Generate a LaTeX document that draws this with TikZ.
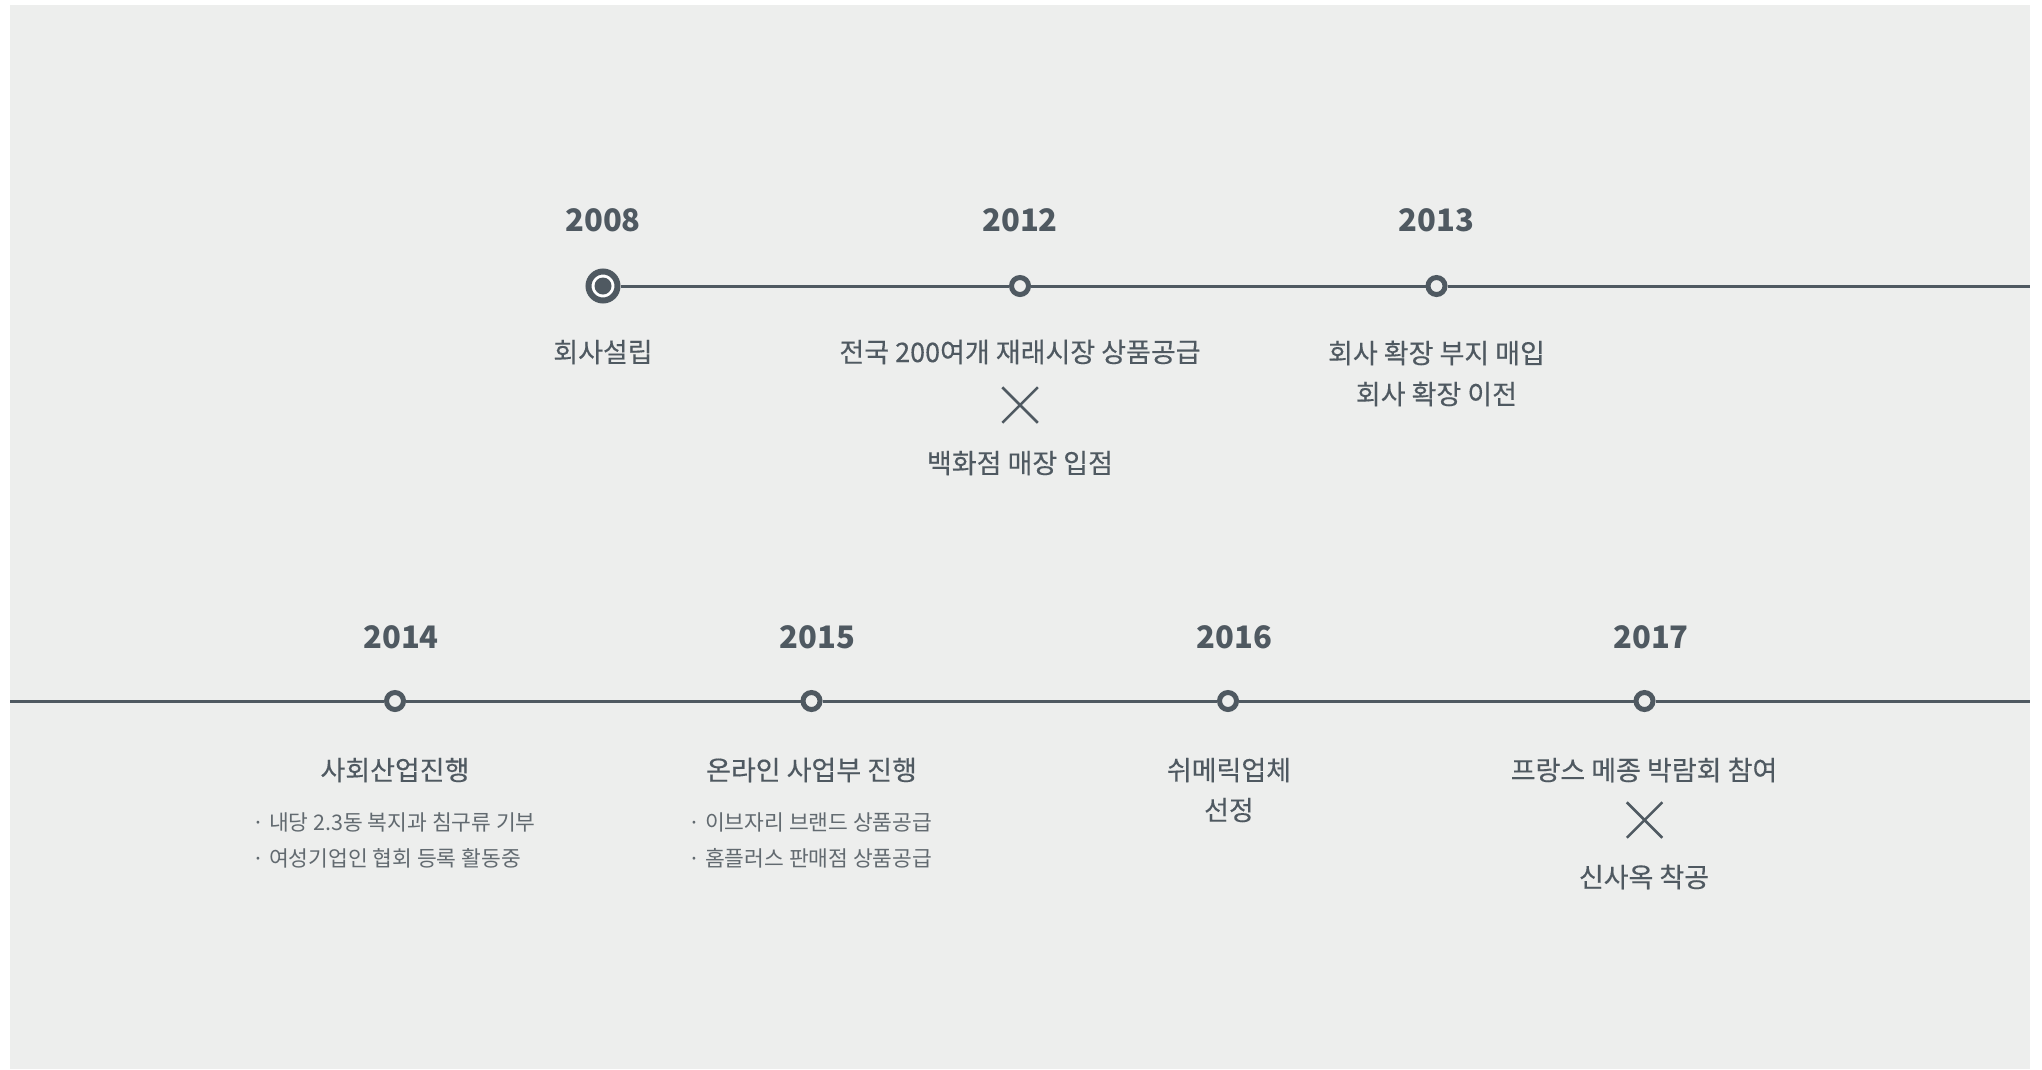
\documentclass[tikz,border=0pt]{standalone}
\usepackage{fontspec}
\setmainfont{Noto Sans CJK KR}
\newfontfamily\medfont{Noto Sans CJK KR}[FakeBold=0.3]
\usetikzlibrary{shapes.misc}
\definecolor{bgc}{RGB}{237,238,237}
\definecolor{ink}{RGB}{79,89,97}
\definecolor{subink}{RGB}{98,106,112}
\begin{document}
\begin{tikzpicture}[x=1pt,y=-1pt,
  yearlbl/.style={font=\fontsize{31}{38}\selectfont\bfseries, text=ink, inner sep=0pt},
  lbl/.style={font=\fontsize{27}{41}\selectfont\medfont, text=ink, align=center, inner sep=0pt},
  lbltwo/.style={font=\fontsize{27}{40}\selectfont\medfont, text=ink, align=center, inner sep=0pt},
  sublbl/.style={font=\fontsize{21.5}{36}\selectfont, text=subink, align=left, anchor=west, inner sep=0pt},
  dotnode/.style={circle, draw=ink, line width=5pt, fill=bgc, minimum size=17pt, inner sep=0pt},
  bigring/.style={circle, draw=ink, line width=6pt, fill=white, minimum size=29pt, inner sep=0pt},
  bigcore/.style={circle, fill=ink, minimum size=17pt, inner sep=0pt},
  xmark/.style={cross out, draw=ink, line width=2.5pt, minimum size=33pt, inner sep=0pt},
  tl/.style={draw=ink, line width=3pt}]
\useasboundingbox (0,0) rectangle (2042,1069);
\fill[bgc] (10,5) rectangle (2030,1069);

% top row
\node[bigring] (c2008) at (603,286) {};
\node[bigcore] (c2008core) at (603,286) {};
\node[dotnode] (c2012) at (1020,286) {};
\node[dotnode] (c2013) at (1436.5,286) {};
\coordinate (topR) at (2030,286);
\draw[tl] (c2008) -- (c2012) -- (c2013) -- (topR);

\node[yearlbl] (y2008) at (603,220) {2008};
\node[yearlbl] (y2012) at (1020,220) {2012};
\node[yearlbl] (y2013) at (1436.5,220) {2013};

\node[lbl] (t2008) at (603,352) {회사설립};
\node[lbl] (t2012a) at (1020,352) {전국 200여개 재래시장 상품공급};
\node[xmark] (x2012) at (1020,405) {};
\node[lbl] (t2012b) at (1020,463) {백화점 매장 입점};
\node[lbl] (t2013) at (1436.5,373.5) {회사 확장 부지 매입\\회사 확장 이전};

% bottom row
\coordinate (botL) at (10,701);
\node[dotnode] (c2014) at (395,701) {};
\node[dotnode] (c2015) at (811.5,701) {};
\node[dotnode] (c2016) at (1228,701) {};
\node[dotnode] (c2017) at (1644.5,701) {};
\coordinate (botR) at (2030,701);
\draw[tl] (botL) -- (c2014) -- (c2015) -- (c2016) -- (c2017) -- (botR);

\node[yearlbl] (y2014) at (401,637) {2014};
\node[yearlbl] (y2015) at (817.5,637) {2015};
\node[yearlbl] (y2016) at (1234.5,637) {2016};
\node[yearlbl] (y2017) at (1651,637) {2017};

\node[lbl] (t2014) at (395,770) {사회산업진행};
\node[sublbl] (s2014a) at (252,822) {· 내당 2.3동 복지과 침구류 기부};
\node[sublbl] (s2014b) at (252,858) {· 여성기업인 협회 등록 활동중};

\node[lbl] (t2015) at (811.5,770) {온라인 사업부 진행};
\node[sublbl] (s2015a) at (688,822) {· 이브자리 브랜드 상품공급};
\node[sublbl] (s2015b) at (688,858) {· 홈플러스 판매점 상품공급};

\node[lbltwo] (t2016) at (1229,790) {쉬메릭업체\\선정};

\node[lbl] (t2017a) at (1644,770) {프랑스 메종 박람회 참여};
\node[xmark] (x2017) at (1644.5,820) {};
\node[lbl] (t2017b) at (1644,877) {신사옥 착공};
\end{tikzpicture}
\end{document}
